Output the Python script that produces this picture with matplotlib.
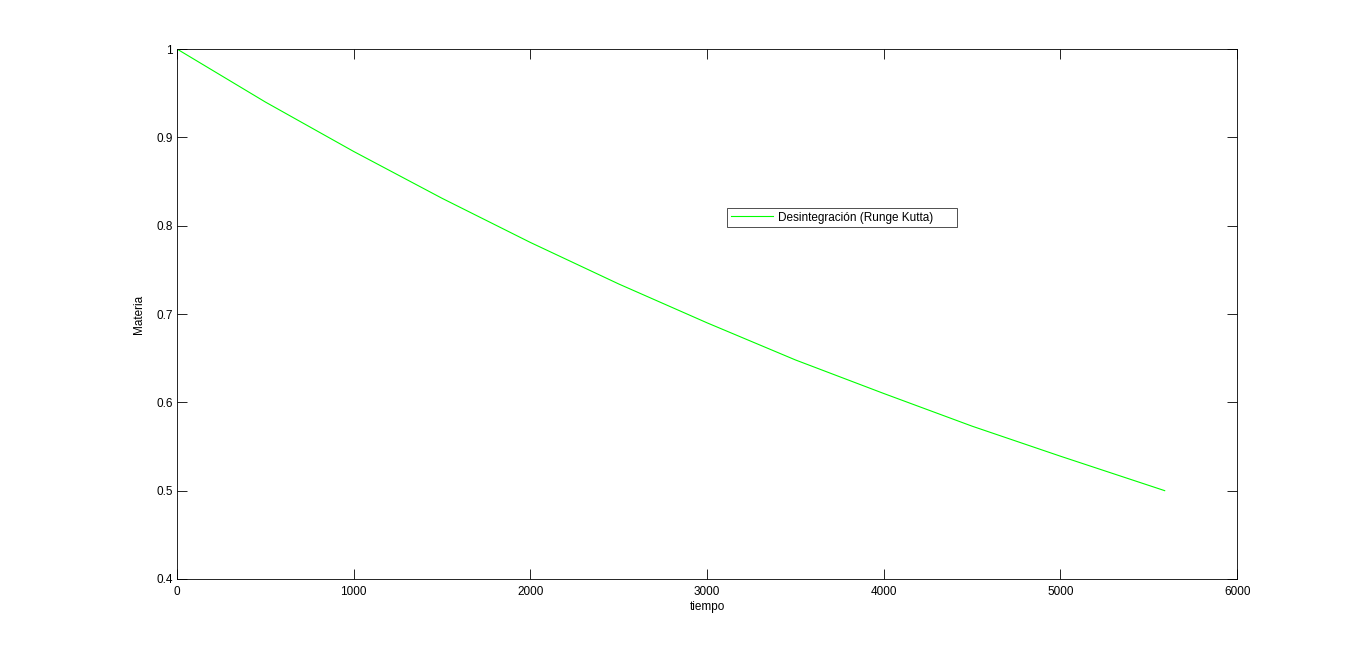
import matplotlib
matplotlib.use("Agg")
import matplotlib.pyplot as plt
from matplotlib.ticker import FuncFormatter

plt.rcParams['font.family'] = ['Liberation Sans', 'DejaVu Sans']

# valores
tiempo = [0, 500, 1000, 1500, 2000, 2500, 3000, 3500, 4000, 4500, 5000, 5590]
materia = [1.0, 0.940, 0.884, 0.831, 0.781, 0.734, 0.690, 0.648, 0.610, 0.573, 0.539, 0.500]
xticks = [0, 1000, 2000, 3000, 4000, 5000, 6000]
yticks = [0.4, 0.5, 0.6, 0.7, 0.8, 0.9, 1.0]

fig = plt.figure(figsize=(13.67, 6.52), dpi=100)
ax = fig.add_axes([0.1295, 0.112, 0.7755, 0.8128])

ax.plot(tiempo, materia, color=(0, 1, 0), lw=0.8, label='Desintegración (Runge Kutta)')

ax.set_xlim(0, 6000)
ax.set_ylim(0.4, 1.0)
ax.set_xticks(xticks)
ax.set_yticks(yticks)
ax.yaxis.set_major_formatter(FuncFormatter(lambda v, p: '%g' % round(v, 2)))
ax.tick_params(direction='in', top=True, right=True, labelsize=8.5, length=7, width=0.6)
ax.tick_params(axis='x', pad=5)
ax.tick_params(axis='y', pad=3)
for s in ax.spines.values():
    s.set_linewidth(0.6)

ax.set_xlabel('tiempo', fontsize=8.5, labelpad=2)
ax.set_ylabel('Materia', fontsize=8.5, labelpad=8)

leg = ax.legend(loc='lower left', bbox_to_anchor=(0.519, 0.664, 0.217, 0.042), mode='expand',
                fontsize=8.5, frameon=True, fancybox=False, borderaxespad=0,
                handlelength=3.6, handletextpad=0.4, borderpad=0.3)
leg.get_frame().set_edgecolor('black')
leg.get_frame().set_linewidth(0.6)

fig.savefig('out.png', dpi=100)
